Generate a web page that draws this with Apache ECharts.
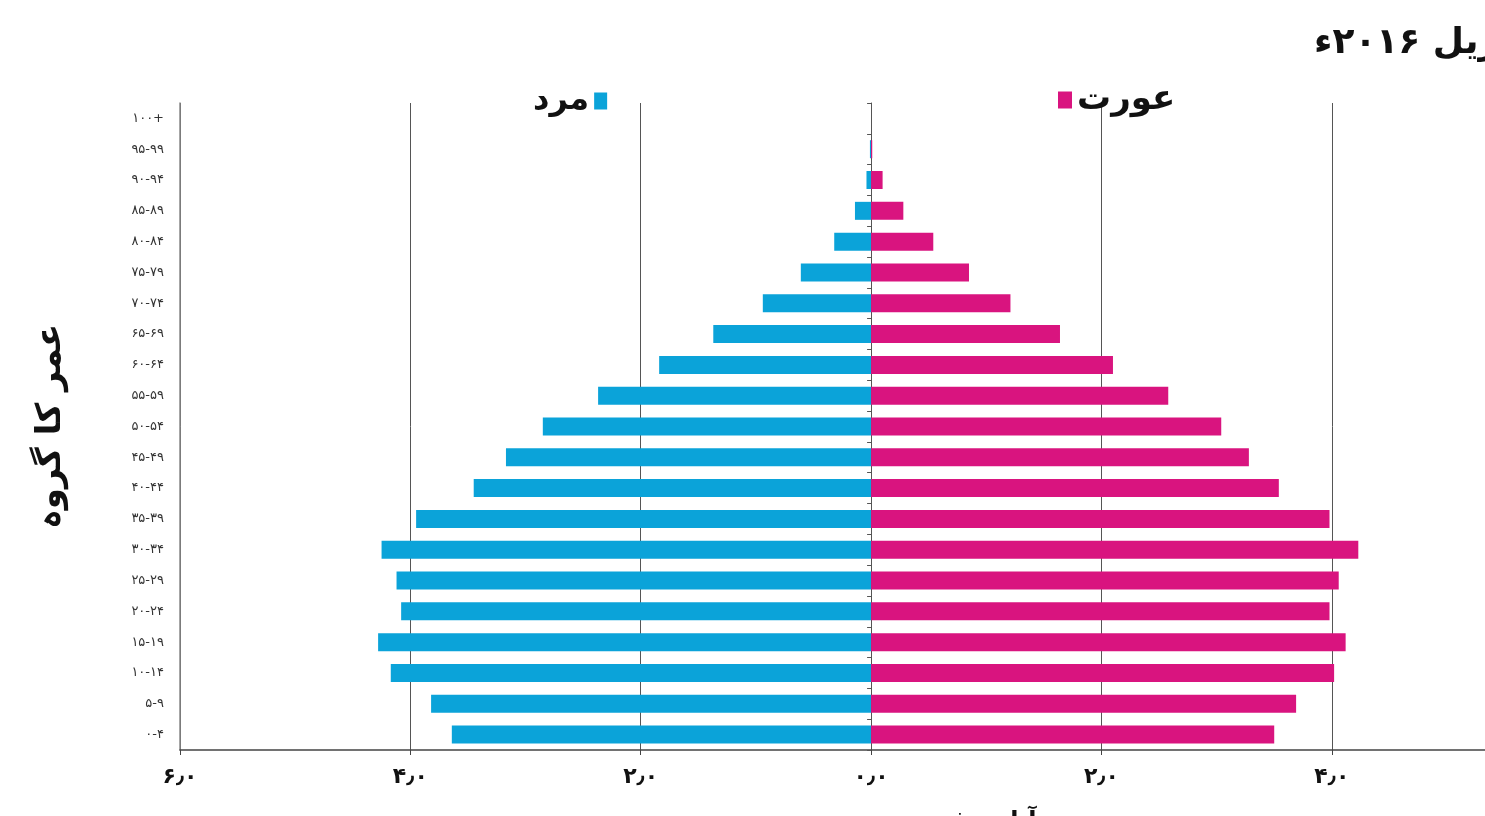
<!DOCTYPE html>
<html>
<head>
<meta charset="utf-8">
<script src="https://cdn.jsdelivr.net/npm/echarts@6/dist/echarts.min.js"></script>
<style>
  html, body { margin: 0; padding: 0; background: #fff; }
  #chart { width: 1485px; height: 816px; }
</style>
</head>
<body>
<div id="chart"></div>
<script>
// age groups, bottom to top
const ageGroups = ["۰-۴", "۵-۹", "۱۰-۱۴", "۱۵-۱۹", "۲۰-۲۴", "۲۵-۲۹", "۳۰-۳۴", "۳۵-۳۹", "۴۰-۴۴", "۴۵-۴۹",
  "۵۰-۵۴", "۵۵-۵۹", "۶۰-۶۴", "۶۵-۶۹", "۷۰-۷۴", "۷۵-۷۹", "۸۰-۸۴", "۸۵-۸۹", "۹۰-۹۴", "۹۵-۹۹", "۱۰۰+"]

// percent of population
const male = [3.64, 3.82, 4.17, 4.28, 4.08, 4.12, 4.25, 3.95, 3.45, 3.17,
  2.85, 2.37, 1.84, 1.37, 0.94, 0.61, 0.32, 0.14, 0.04, 0.01, 0]
const female = [3.50, 3.69, 4.02, 4.12, 3.98, 4.06, 4.23, 3.98, 3.54, 3.28,
  3.04, 2.58, 2.10, 1.64, 1.21, 0.85, 0.54, 0.28, 0.10, 0.01, 0]

const tickValues = [-6, -4, -2, 0, 2, 4]
const tickLabels = ["۶٫۰", "۴٫۰", "۲٫۰", "۰٫۰", "۲٫۰", "۴٫۰"]

const maleName = "مرد"
const femaleName = "عورت"
const urduFont = "DejaVu Sans"

const chart = echarts.init(document.getElementById("chart"))

chart.setOption({
  animation: false,
  // the picture is cropped on the right, so the axis stops short of 6.0
  grid: { left: 180, right: 0, top: 103, bottom: 66 },
  legend: [
    {
      data: [maleName],
      left: 528,
      top: 80,
      align: "right",
      itemWidth: 13,
      itemHeight: 17,
      icon: "rect",
      textStyle: { fontSize: 32, fontWeight: "bold", fontFamily: urduFont, color: "#111" }
    },
    {
      data: [femaleName],
      left: 1053,
      top: 78,
      align: "left",
      itemWidth: 14,
      itemHeight: 17,
      icon: "rect",
      textStyle: { fontSize: 34, fontWeight: "bold", fontFamily: urduFont, color: "#111" }
    }
  ],
  xAxis: {
    type: "value",
    min: -6,
    max: 5.33,
    interval: 2,
    axisLine: { show: true, lineStyle: { color: "#444", width: 1.5 } },
    axisTick: { show: true, length: 5, lineStyle: { color: "#444" } },
    axisLabel: {
      margin: 16,
      fontSize: 22,
      fontWeight: "bold",
      fontFamily: urduFont,
      color: "#111",
      showMaxLabel: false,
      formatter: v => {
        const i = tickValues.indexOf(v)
        return i < 0 ? "" : tickLabels[i]
      }
    },
    splitLine: { show: true, showMaxLine: false, lineStyle: { color: "#555", width: 1 } }
  },
  yAxis: [
    {
      type: "category",
      data: ageGroups,
      name: "عمر کا گروہ",
      nameLocation: "middle",
      nameRotate: 90,
      nameGap: 112,
      nameTextStyle: { fontSize: 34, fontWeight: "bold", fontFamily: urduFont, color: "#111" },
      axisLine: { onZero: false, lineStyle: { color: "#888", width: 1.5 } },
      axisTick: { show: false },
      axisLabel: { margin: 16, fontSize: 13, fontFamily: urduFont, color: "#333" }
    },
    {
      type: "category",
      data: ageGroups,
      position: "left",
      axisLine: { onZero: true, lineStyle: { color: "#555", width: 1 } },
      axisTick: { show: true, length: 4, lineStyle: { color: "#555" } },
      axisLabel: { show: false }
    }
  ],
  graphic: [
    {
      type: "text",
      left: 1314,
      top: 26,
      style: { text: "اپریل ۲۰۱۶ء", fontSize: 36, fontWeight: "bold", fontFamily: urduFont, fill: "#111" }
    },
    {
      type: "text",
      left: 850,
      top: 810,
      style: { text: "آبادی فیصد میں", fontSize: 24, fontWeight: "bold", fontFamily: urduFont, fill: "#111" }
    }
  ],
  series: [
    {
      name: maleName,
      type: "bar",
      barWidth: 18,
      barGap: "-100%",
      itemStyle: { color: "#0ba3d9" },
      data: male.map(v => -v)
    },
    {
      name: femaleName,
      type: "bar",
      barWidth: 18,
      barGap: "-100%",
      itemStyle: { color: "#d9147f" },
      data: female
    }
  ]
})
</script>
</body>
</html>
